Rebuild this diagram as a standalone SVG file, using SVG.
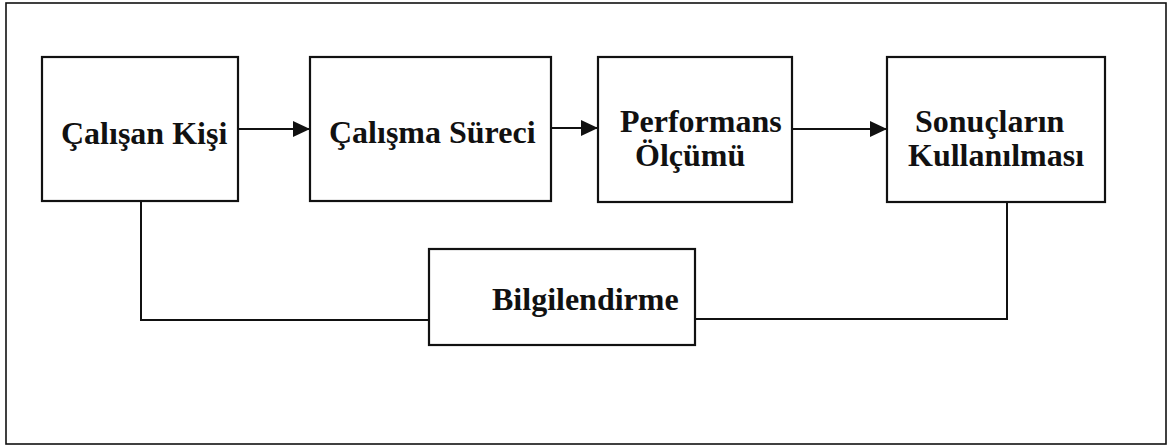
<svg xmlns="http://www.w3.org/2000/svg" width="1169" height="448" viewBox="0 0 1169 448">
  <style>
    .box { fill: #ffffff; stroke: #111111; stroke-width: 2.2; }
    .frame { fill: #ffffff; stroke: #111111; stroke-width: 1.6; }
    .wire { fill: none; stroke: #111111; stroke-width: 2; }
    .lbl { font-family: "Liberation Serif", "Times New Roman", serif; font-weight: bold; font-size: 32px; fill: #111111; }
  </style>
  <defs>
    <marker id="arrow" markerUnits="userSpaceOnUse" markerWidth="18" markerHeight="18" refX="17" refY="9" orient="auto">
      <path d="M0,1 L17,9 L0,17 Z" fill="#111111"/>
    </marker>
  </defs>

  <!-- outer frame -->
  <rect class="frame" x="6" y="3" width="1160" height="441"/>

  <!-- connectors -->
  <g id="connectors">
    <line class="wire" x1="238" y1="129" x2="310" y2="129" marker-end="url(#arrow)"/>
    <line class="wire" x1="551" y1="128" x2="598" y2="128" marker-end="url(#arrow)"/>
    <line class="wire" x1="792" y1="129" x2="887" y2="129" marker-end="url(#arrow)"/>
    <polyline class="wire" points="141,201 141,320 429,320"/>
    <polyline class="wire" points="1007,202 1007,319 695,319"/>
  </g>

  <g id="calisan-kisi">
    <rect class="box" x="42" y="57" width="196" height="144"/>
    <text class="lbl" x="61" y="144">Çalışan Kişi</text>
  </g>

  <g id="calisma-sureci">
    <rect class="box" x="310" y="57" width="241" height="144"/>
    <text class="lbl" x="329" y="143">Çalışma Süreci</text>
  </g>

  <g id="performans-olcumu">
    <rect class="box" x="598" y="57" width="194" height="145"/>
    <text class="lbl" x="620" y="132">Performans</text>
    <text class="lbl" x="635" y="166">Ölçümü</text>
  </g>

  <g id="sonuclarin-kullanilmasi">
    <rect class="box" x="887" y="57" width="218" height="145"/>
    <text class="lbl" x="915" y="132">Sonuçların</text>
    <text class="lbl" x="908" y="166">Kullanılması</text>
  </g>

  <g id="bilgilendirme">
    <rect class="box" x="429" y="249" width="266" height="96"/>
    <text class="lbl" x="492" y="310">Bilgilendirme</text>
  </g>
</svg>
